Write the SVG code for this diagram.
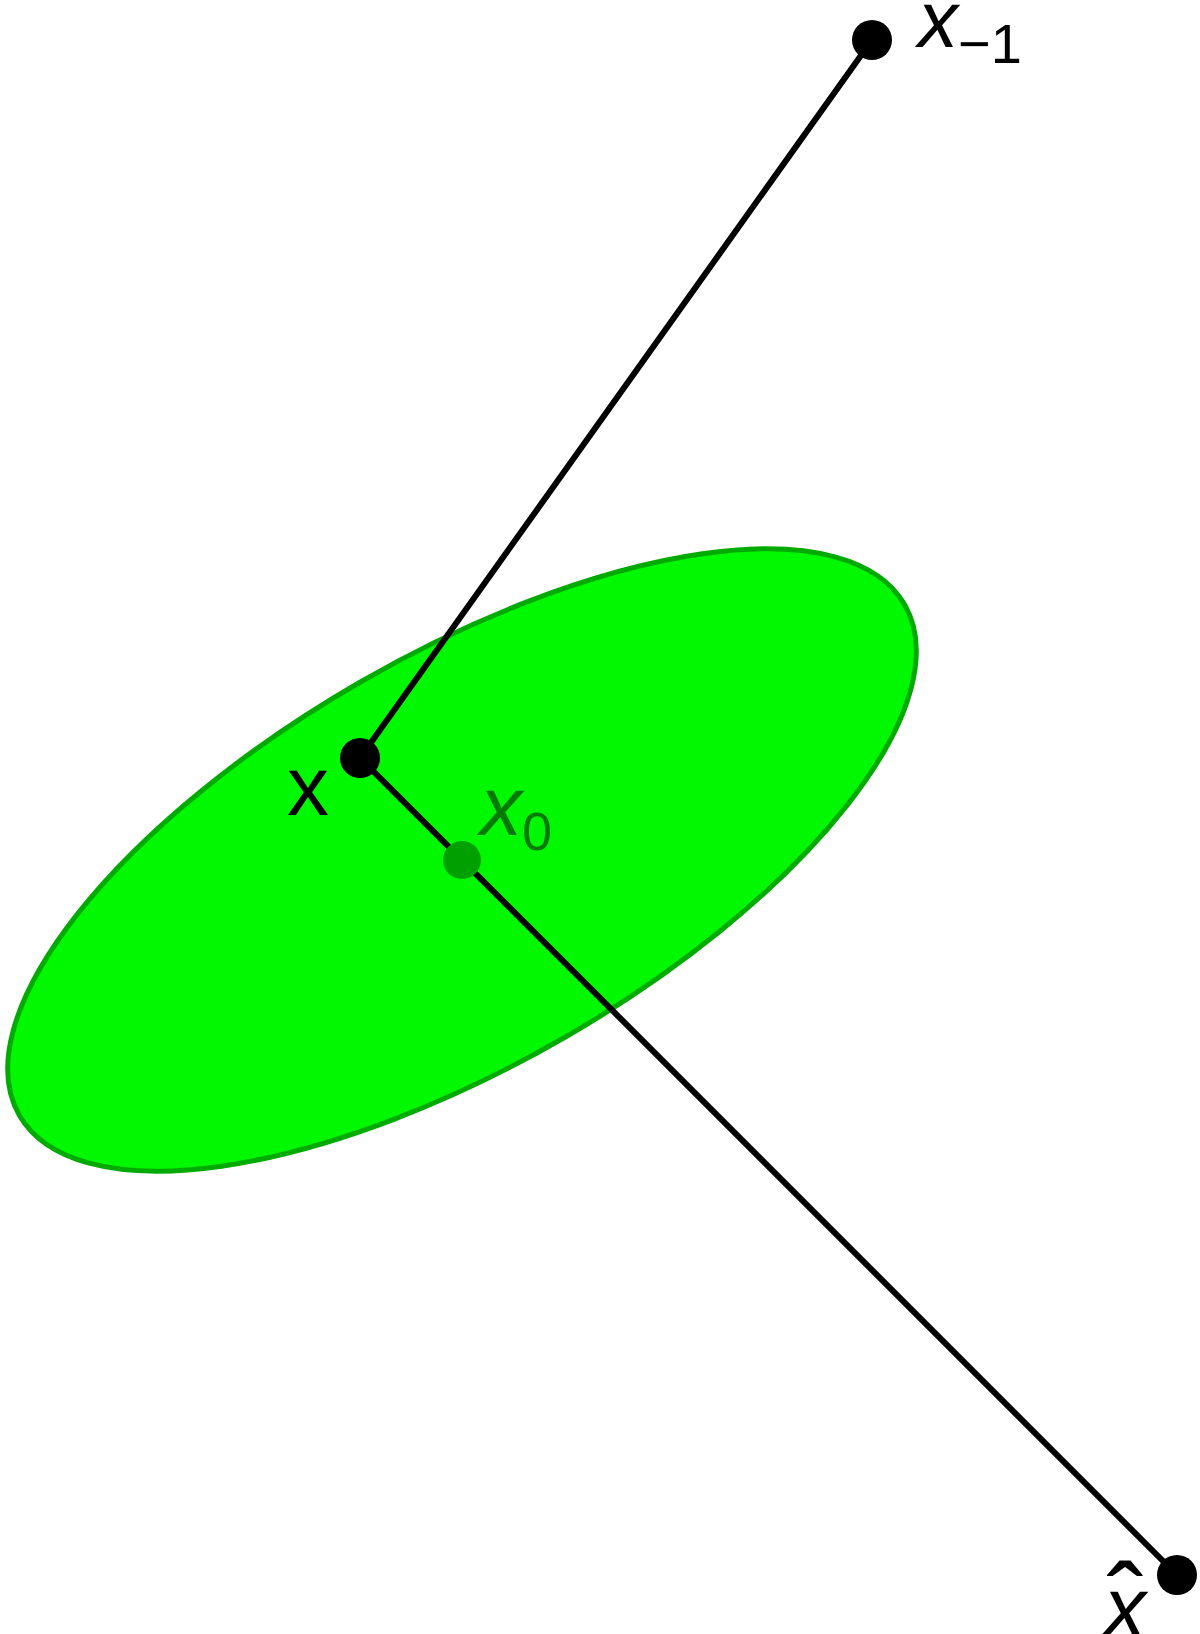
<svg xmlns="http://www.w3.org/2000/svg" width="1200" height="1634" viewBox="0 0 1200 1634">
<style>
.lbl{font-family:"Liberation Sans",Arial,sans-serif;fill:#000}
.it{font-style:italic}
.edge{stroke:#000;stroke-width:6;fill:none;stroke-linecap:round}
.dot{fill:#000}
</style>
<rect width="1200" height="1634" fill="#fff"/>
<g id="region">
<ellipse cx="462" cy="860" rx="511" ry="205" transform="rotate(-30 462 860)" fill="#00f800" stroke="#00aa00" stroke-width="5"/>
</g>
<g id="connectors">
<polyline class="edge" points="872,40 360,758 1177,1575"/>
</g>
<g id="node-xm1">
<circle class="dot" cx="872" cy="40" r="20"/>
<text class="lbl" x="918" y="47" font-size="80"><tspan class="it">x</tspan><tspan font-size="56" dy="16">−1</tspan></text>
</g>
<g id="node-x">
<circle class="dot" cx="360" cy="758" r="20"/>
<text class="lbl" x="287" y="815" font-size="84">x</text>
</g>
<g id="node-x0">
<circle cx="462" cy="860" r="19" fill="#00a000"/>
<text class="lbl" x="480" y="835" font-size="84" style="fill:#007a00"><tspan class="it">x</tspan><tspan font-size="54" dy="15">0</tspan></text>
</g>
<g id="node-xhat">
<circle class="dot" cx="1177" cy="1575" r="20"/>
<text class="lbl" x="1104" y="1636" font-size="84"><tspan class="it">x</tspan><tspan x="1107" y="1640" font-size="110">ˆ</tspan></text>
</g>
</svg>
